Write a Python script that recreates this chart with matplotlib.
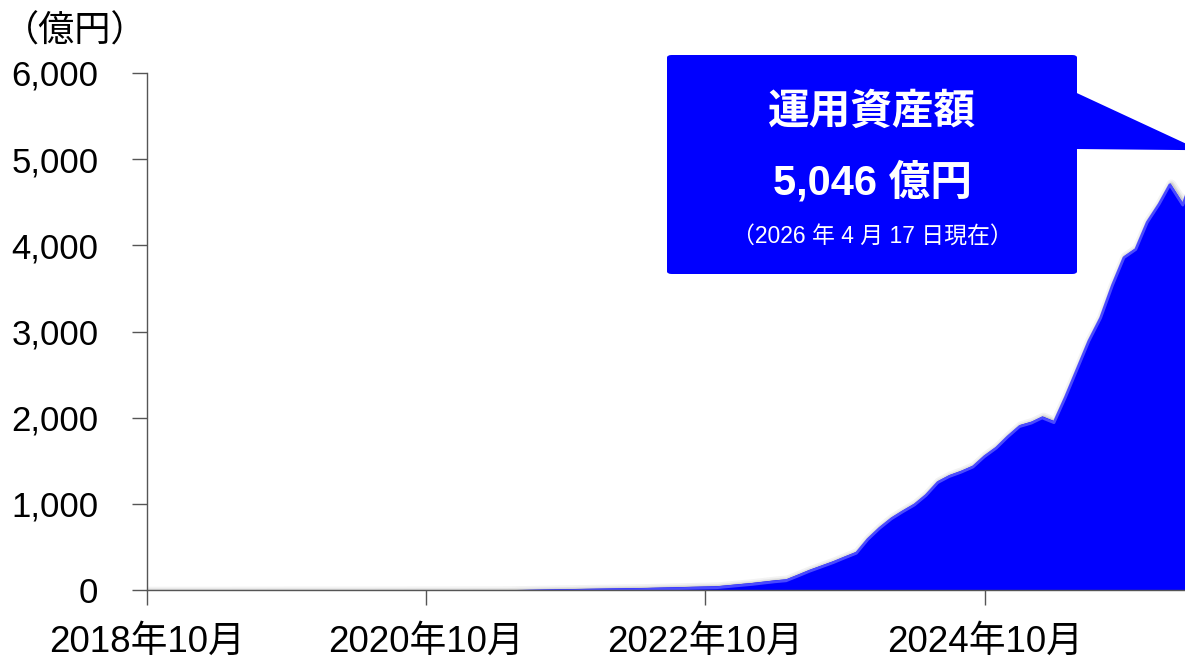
import pandas as pd
import matplotlib.pyplot as plt
import matplotlib.dates as mdates
from matplotlib.patches import FancyBboxPatch, Polygon
from matplotlib.transforms import offset_copy

plt.rcParams['font.family'] = ['Liberation Sans', 'Noto Sans CJK JP', 'DejaVu Sans']

# 運用資産額（億円）
dates = ['2018-10-01', '2019-04-30', '2019-10-31', '2020-04-30', '2020-10-31',
         '2021-04-30', '2021-10-31', '2022-04-30', '2022-10-31', '2023-01-31',
         '2023-03-31', '2023-04-30', '2023-05-31', '2023-06-30', '2023-07-31',
         '2023-08-31', '2023-09-30', '2023-10-31', '2023-11-30', '2023-12-31',
         '2024-01-31', '2024-02-29', '2024-03-31', '2024-04-30', '2024-05-31',
         '2024-06-30', '2024-07-31', '2024-08-31', '2024-09-30', '2024-10-31',
         '2024-11-30', '2024-12-31', '2025-01-31', '2025-02-28', '2025-03-31',
         '2025-04-30', '2025-05-31', '2025-06-30', '2025-07-31', '2025-08-31',
         '2025-09-30', '2025-10-31', '2025-11-30', '2025-12-31', '2026-01-28',
         '2026-03-03', '2026-04-17']
aum = [0, 0, 1, 1, 2,
       4, 18, 30, 50, 88,
       118, 130, 185, 240, 290,
       340, 395, 450, 610, 740,
       850, 930, 1010, 1120, 1270,
       1340, 1390, 1450, 1570, 1670,
       1800, 1920, 1960, 2020, 1965,
       2260, 2590, 2910, 3180, 3560,
       3880, 3975, 4290, 4500, 4725,
       4490, 5046]

yticks = [0, 1000, 2000, 3000, 4000, 5000, 6000]
xtick_dates = ['2018-10-01', '2020-10-01', '2022-10-01', '2024-10-01']
xtick_labels = ['2018年10月', '2020年10月', '2022年10月', '2024年10月']

x = pd.to_datetime(dates)
blue = '#0000FF'

fig = plt.figure(figsize=(11.85, 6.62), dpi=100)
# 右端は図の外まで伸ばしてグラフを切る
ax = fig.add_axes([147 / 1185, 72 / 662, 1053 / 1185, 517 / 662])

# 影
for lw, a in [(7, 0.06), (4.5, 0.08), (2.5, 0.12)]:
    tr = offset_copy(ax.transData, fig=fig, x=1.5, y=-1.5, units='dots')
    ax.plot(x, aum, color='#333333', lw=lw, alpha=a, transform=tr,
            solid_joinstyle='round', zorder=1)

ax.fill_between(x, aum, 0, color=blue, lw=0, zorder=2)
tr_in = offset_copy(ax.transData, fig=fig, x=0, y=-2, units='dots')
ax.plot(x, aum, color='#4a4aff', lw=2, transform=tr_in, zorder=3,
        solid_joinstyle='round')

ax.set_xlim(pd.Timestamp('2018-10-01'), pd.Timestamp('2026-04-17'))
ax.set_ylim(0, 6000)
ax.set_yticks(yticks)
ax.set_yticklabels([f'{v:,}' for v in yticks])
ax.set_xticks(pd.to_datetime(xtick_dates))
ax.set_xticklabels(xtick_labels)

for s in ['top', 'right']:
    ax.spines[s].set_visible(False)
for s in ['left', 'bottom']:
    ax.spines[s].set_color('#555555')
    ax.spines[s].set_linewidth(1.0)
ax.spines['bottom'].set_zorder(4)
ax.tick_params(axis='y', length=11, width=1, color='#555555', pad=24,
               labelsize=25)
ax.tick_params(axis='x', length=11, width=1, color='#555555', pad=14,
               labelsize=26.5)

fig.text(3 / 1185, 1 - 32 / 662, '（億円）', fontsize=26, ha='left', va='center',
         family=['Noto Sans CJK JP'])

# 吹き出し
x0, x1 = 667 / 1185, 1077 / 1185
y0, y1 = 1 - 274 / 662, 1 - 55 / 662
box = FancyBboxPatch((x0, y0), x1 - x0, y1 - y0,
                     boxstyle='round,pad=0,rounding_size=0.004',
                     transform=fig.transFigure, facecolor=blue, edgecolor='none',
                     clip_on=False, zorder=5)
fig.patches.append(box)
tip = fig.transFigure.inverted().transform(
    ax.transData.transform((mdates.date2num(x[-1]), aum[-1])))
arrow = Polygon([(x1 - 0.002, 1 - 92 / 662), (tip[0], tip[1] + 5 / 662),
                 (x1 - 0.002, 1 - 149 / 662)], closed=True,
                transform=fig.transFigure, facecolor=blue, edgecolor='none',
                clip_on=False, zorder=5)
fig.patches.append(arrow)

cx = (x0 + x1) / 2
fig.text(cx, 1 - 113 / 662, '運用資産額', color='white', fontsize=30,
         fontweight='bold', ha='center', va='center', zorder=6)
fig.text(cx, 1 - 183 / 662, f'{aum[-1]:,} 億円', color='white', fontsize=30,
         fontweight='bold', ha='center', va='center', zorder=6)
fig.text(cx, 1 - 237 / 662, '（2026 年 4 月 17 日現在）', color='white',
         fontsize=16.5, ha='center', va='center', zorder=6)

fig.savefig('out.png', dpi=100)
